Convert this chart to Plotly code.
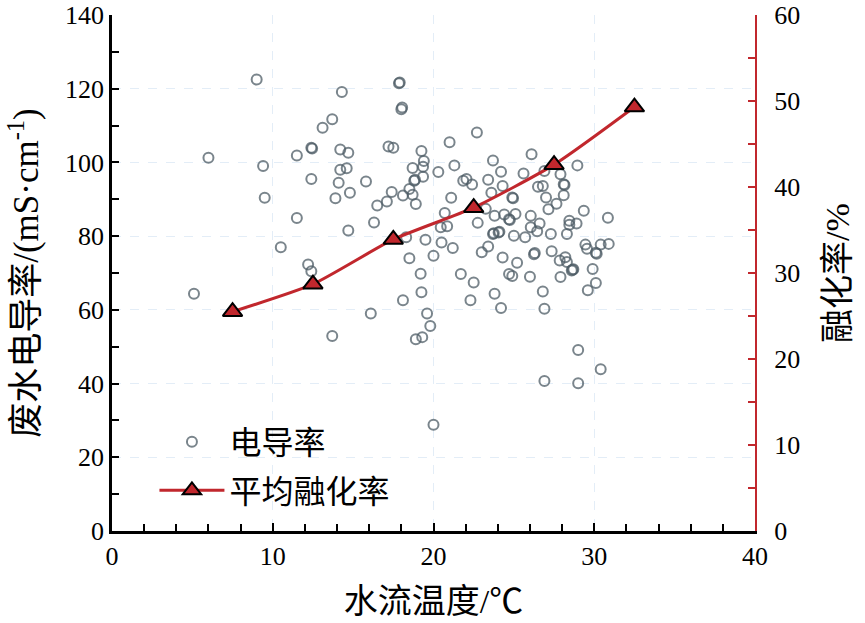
import plotly.graph_objects as go

# ---- data ----
cond_temp = [5.1, 6.0, 9.0, 9.4, 9.5, 10.5, 11.5, 11.5, 12.4, 12.45, 12.4, 12.2, 12.4,
             13.1, 13.7, 14.3, 14.2, 14.7, 14.2, 14.6, 14.1, 14.8, 13.9, 15.8, 14.7,
             16.3, 16.5, 17.1, 17.4, 18.1, 17.85, 17.9, 18.0, 18.05, 17.2, 17.5, 19.25,
             19.4, 18.7, 19.35, 18.8, 18.85, 18.5, 18.7, 18.9, 18.3, 19.5, 18.5, 19.2,
             19.35, 13.7, 16.1, 18.1, 19.25, 19.6, 19.8, 18.9, 19.3, 20.0, 20.0,
             20.3, 21.0, 22.7, 21.3, 21.85, 22.05, 22.4, 23.4, 23.7, 21.1, 20.7, 20.45,
             20.85, 22.75, 23.25, 23.6, 20.5, 21.2, 23.7, 23.75, 23.4, 23.0, 21.7, 22.5,
             22.3, 23.8, 24.2, 24.3, 25.2, 24.7, 24.9, 26.0, 26.1, 24.2, 25.6, 26.9,
             27.9, 28.95, 26.5, 26.8, 28.1, 28.15, 24.3, 24.9, 24.95, 27.0, 28.1, 27.15,
             27.65, 29.35, 30.85, 23.8, 24.4, 25.1, 24.7, 24.75, 26.05, 26.05, 26.6,
             28.45, 28.45, 28.9, 28.3, 27.3, 26.45, 24.05, 24.1, 25.0, 25.7, 29.45, 30.4,
             30.9, 29.55, 30.1, 30.15, 26.25, 26.3, 27.35, 27.85, 28.2, 28.3, 28.65, 28.7,
             28.6, 29.9, 27.9, 30.1, 29.6, 26.8, 26.9, 29.0, 30.4, 26.9, 29.0]
cond_value = [64.4, 101.3, 122.5, 99.0, 90.4, 77.0, 101.9, 84.9, 104.0, 103.8, 95.5, 72.3, 70.5,
              109.4, 111.7, 119.1, 103.5, 102.6, 98.0, 98.4, 94.5, 91.8, 90.3, 94.8, 81.5,
              83.7, 88.3, 89.4, 92.0, 91.0, 121.5, 121.7, 114.4, 114.9, 104.3, 104.0, 103.1,
              100.4, 98.5, 96.1, 95.0, 95.3, 92.8, 91.2, 88.7, 79.7, 79.0, 74.0, 69.8,
              98.8, 52.9, 59.0, 62.6, 64.8, 59.0, 55.6, 52.0, 52.6, 28.8, 74.7,
              97.4, 105.5, 108.1, 99.2, 95.0, 95.5, 94.0, 95.3, 100.5, 90.4, 86.3, 82.4,
              82.7, 83.6, 87.4, 91.8, 78.3, 76.8, 80.6, 80.8, 77.2, 75.6, 69.7, 67.4,
              62.6, 64.4, 60.5, 74.2, 72.8, 69.7, 69.2, 69.0, 102.2, 97.5, 97.0, 97.7,
              96.8, 99.2, 93.4, 93.6, 94.1, 93.9, 93.6, 90.5, 90.3, 90.5, 91.1, 87.3,
              88.8, 86.9, 85.0, 85.5, 85.9, 86.0, 84.6, 84.4, 85.5, 82.4, 83.4,
              84.2, 83.1, 83.4, 80.6, 80.6, 81.3, 81.0, 81.2, 80.1, 79.7, 77.7, 77.7,
              77.9, 76.6, 75.5, 75.2, 75.1, 75.4, 75.9, 73.4, 74.3, 73.0, 70.9, 71.0,
              70.7, 71.1, 68.9, 67.3, 65.3, 65.0, 60.3, 49.1, 43.9, 40.7, 40.1]

melt_temp = [7.5, 12.5, 17.5, 22.5, 27.5, 32.5]
melt_rate = [25.5, 28.7, 33.9, 37.6, 42.6, 49.3]

x_ticks = [0, 10, 20, 30, 40]
y_left_ticks = [0, 20, 40, 60, 80, 100, 120, 140]
y_right_ticks = [0, 10, 20, 30, 40, 50, 60]

RED = "#c1272d"
GREY = "rgba(78,92,102,0.75)"
NUM_FONT = "Liberation Serif, Times New Roman, Noto Sans CJK SC"
CJK_FONT = "Liberation Serif, Noto Sans CJK SC"

fig = go.Figure()
fig.add_trace(go.Scatter(
    x=cond_temp, y=cond_value, mode="markers", name="电导率",
    legendgroup="a",
    marker=dict(symbol="circle-open", size=10, color=GREY, line=dict(width=2, color=GREY)),
    yaxis="y"))
fig.add_trace(go.Scatter(
    x=melt_temp, y=melt_rate, mode="lines+markers", name="平均融化率",
    legendgroup="b",
    line=dict(color=RED, width=3, shape="spline", smoothing=0.6),
    marker=dict(symbol="triangle-up", size=17, color=RED, line=dict(width=2, color="black")),
    yaxis="y2"))

fig.update_layout(
    width=865, height=623,
    margin=dict(l=112, r=110, t=15, b=92),
    paper_bgcolor="white", plot_bgcolor="white",
    showlegend=True,
    legend=dict(x=0.066, y=0.226, xanchor="left", yanchor="top",
                bgcolor="rgba(0,0,0,0)", font=dict(family=CJK_FONT, size=32, color="black"),
                itemwidth=65, tracegroupgap=4),
    xaxis=dict(range=[0, 40], tickvals=x_ticks, ticks="inside", ticklen=8, tickwidth=2,
               tickcolor="black", showline=True, linecolor="black", linewidth=2.5,
               showgrid=True, gridcolor="#e3edf7", griddash="dash", gridwidth=1,
               zeroline=False, ticklabeloverflow="allow", automargin=False,
               minor=dict(dtick=2, ticks="inside", ticklen=7, tickwidth=2, tickcolor="black", showgrid=False),
               tickfont=dict(family=NUM_FONT, size=26, color="black"),
               title=dict(text="水流温度/℃", font=dict(family=CJK_FONT, size=34, color="black"), standoff=20)),
    yaxis=dict(range=[0, 140], tickvals=y_left_ticks, ticks="inside", ticklen=7, tickwidth=2,
               tickcolor="black", showline=True, linecolor="black", linewidth=2.5,
               showgrid=True, gridcolor="#e3edf7", griddash="dash", gridwidth=1,
               zeroline=False, ticklabeloverflow="allow", automargin=False,
               minor=dict(dtick=10, ticks="inside", ticklen=7, tickwidth=2, tickcolor="black", showgrid=False),
               tickfont=dict(family=NUM_FONT, size=26, color="black"),
               title=dict(text="废水电导率/(mS·cm<sup>-1</sup>)", font=dict(family=CJK_FONT, size=35, color="black"), standoff=16)),
    yaxis2=dict(range=[0, 60], tickvals=y_right_ticks, overlaying="y", side="right",
                ticks="inside", ticklen=7, tickwidth=2, tickcolor=RED,
                showline=True, linecolor=RED, linewidth=2,
                showgrid=False, zeroline=False, ticklabeloverflow="allow", automargin=False,
                minor=dict(dtick=5, ticks="inside", ticklen=7, tickwidth=2, tickcolor=RED, showgrid=False),
                tickfont=dict(family=NUM_FONT, size=26, color="black"),
                ticklabelstandoff=12,
                title=dict(text="融化率/%", font=dict(family=CJK_FONT, size=34, color="black"), standoff=26)),
)

fig.write_html("out.html")
